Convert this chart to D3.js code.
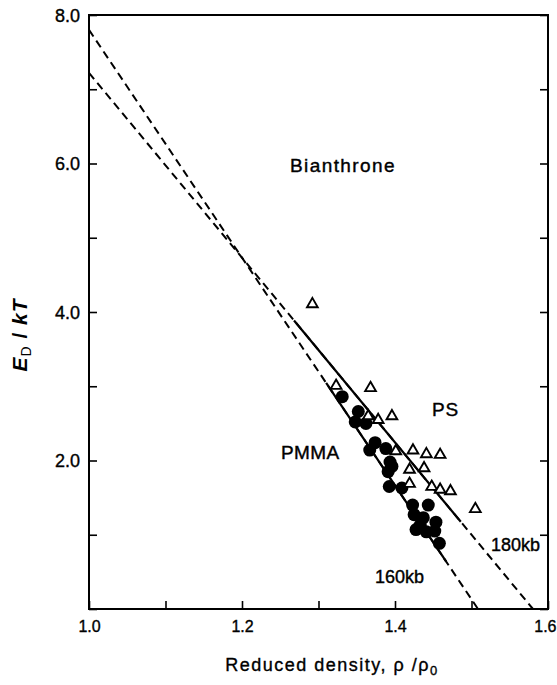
<!DOCTYPE html>
<html><head><meta charset="utf-8">
<script src="https://cdn.jsdelivr.net/npm/d3@7"></script>
<style>
body{margin:0;background:#fff}
text{font-family:"Liberation Sans",Arial,sans-serif;fill:#000}
</style>
</head><body>
<svg id="c" width="557" height="685"></svg>
<script>
// PS (open triangles)
const psRho = [1.292,1.323,1.368,1.365,1.378,1.396,1.401,1.4235,1.441,1.459,1.419,1.438,1.419,1.448,1.459,1.4725,1.505];
const psE   = [4.12,3.02,2.99,2.61,2.56,2.61,2.14,2.15,2.10,2.09,1.89,1.91,1.70,1.66,1.62,1.60,1.36];
// PMMA (filled circles)
const pmmaRho = [1.331,1.352,1.348,1.362,1.374,1.367,1.388,1.3935,1.396,1.391,1.3925,1.409,1.423,1.4435,1.425,1.437,1.4535,1.4275,1.441,1.452,1.458,1.433];
const pmmaE   = [2.86,2.66,2.52,2.50,2.24,2.14,2.16,1.98,1.92,1.85,1.65,1.63,1.40,1.40,1.27,1.23,1.17,1.07,1.04,1.05,0.885,1.13];
// Fitted lines
const lineNames     = ["160kb","180kb"];
const lineIntercept = [7.80, 7.22];   // E at rho = 1.0
const lineRoot      = [1.5085, 1.5804]; // rho where E = 0
const solidFrom     = [1.31, 1.268];
const solidTo       = [1.467, 1.486];
// Ticks
const xTicks = [1.0,1.1,1.2,1.3,1.4,1.5,1.6];
const xTickLabels = ["1.0","","1.2","","1.4","","1.6"];
const yTicks = [0,1,2,3,4,5,6,7,8];
const yTickLabels = ["","","2.0","","4.0","","6.0","","8.0"];

const svg = d3.select("#c");
const x = d3.scaleLinear().domain([1.0,1.6]).range([89,548]);
const y = d3.scaleLinear().domain([0,8]).range([609,15]);

// axes
const gx = svg.append("g").attr("transform","translate(0,609)")
  .call(d3.axisBottom(x).tickValues(xTicks).tickSizeInner(-8).tickSizeOuter(0).tickPadding(12)
    .tickFormat((d,i)=>xTickLabels[i]));
const gy = svg.append("g").attr("transform","translate(89,0)")
  .call(d3.axisLeft(y).tickValues(yTicks).tickSizeInner(-8).tickSizeOuter(0).tickPadding(9)
    .tickFormat((d,i)=>yTickLabels[i]));
const gr = svg.append("g").attr("transform","translate(548,0)")
  .call(d3.axisRight(y).tickValues(yTicks).tickSizeInner(-8).tickSizeOuter(0).tickFormat(""));
[gx,gy,gr].forEach(g=>{
  g.select(".domain").remove();
  g.selectAll(".tick line").attr("stroke","#000").attr("stroke-width",1.6);
  g.selectAll("text").attr("fill","#000").attr("stroke","#000").attr("stroke-width",0.35);
});
gx.selectAll("text").attr("font-size",16).style("font-family","'Liberation Sans',Arial,sans-serif");
gx.selectAll(".tick").filter(d=>d===1.6).select("text").attr("text-anchor","end").attr("dx",8);
gy.selectAll("text").attr("font-size",18).attr("dy","0.36em").style("font-family","'Liberation Sans',Arial,sans-serif");

// frame
svg.append("rect").attr("x",x(1.0)).attr("y",y(8)).attr("width",x(1.6)-x(1.0)).attr("height",y(0)-y(8))
  .attr("fill","none").attr("stroke","#000").attr("stroke-width",2);

// lines
const lineFn = d3.line().x(d=>x(d[0])).y(d=>y(d[1]));
lineNames.forEach((n,i)=>{
  const slope = -lineIntercept[i]/(lineRoot[i]-1);
  const f = r => lineIntercept[i] + slope*(r-1);
  svg.append("path").datum([[1.0,f(1.0)],[lineRoot[i],0]])
    .attr("d",lineFn).attr("fill","none").attr("stroke","#000").attr("stroke-width",2)
    .attr("stroke-dasharray","8,5");
  svg.append("path").datum([[solidFrom[i],f(solidFrom[i])],[solidTo[i],f(solidTo[i])]])
    .attr("d",lineFn).attr("fill","none").attr("stroke","#000").attr("stroke-width",2.2);
});

// PMMA circles
svg.append("g").selectAll("circle").data(pmmaRho).join("circle")
  .attr("cx",(d)=>x(d)).attr("cy",(d,i)=>y(pmmaE[i])).attr("r",6.5).attr("fill","#000");

// PS triangles
const tri = d3.symbol().type(d3.symbolTriangle).size(50);
svg.append("g").selectAll("path").data(psRho).join("path")
  .attr("transform",(d,i)=>`translate(${x(d)},${y(psE[i])+1})`)
  .attr("d",tri).attr("fill","#fff").attr("stroke","#000").attr("stroke-width",1.9);

// labels
const lab = (t,xx,yy,fs,ls)=>svg.append("text").attr("x",xx).attr("y",yy).attr("font-size",fs)
  .attr("letter-spacing",ls||0).attr("stroke","#000").attr("stroke-width",0.4).text(t);
lab("Bianthrone",290,172,19,1.4);
lab("PS",432,416,19,0.8);
lab("PMMA",281,459,19,0.4);
lab("180kb",491,551,18,0);
lab("160kb",375,583,18,0);

// x title
const xt = svg.append("text").attr("x",332).attr("y",671).attr("text-anchor","middle")
  .attr("font-size",18).attr("letter-spacing",1.5).attr("stroke","#000").attr("stroke-width",0.35);
xt.append("tspan").text("Reduced density, ρ /ρ");
xt.append("tspan").attr("font-size",13).attr("dy",4).text("0");

// y title
const yt = svg.append("text").attr("transform","translate(27,335) rotate(-90)").attr("text-anchor","middle")
  .attr("font-size",21).attr("font-weight","bold").attr("letter-spacing",1);
yt.append("tspan").attr("font-style","italic").text("E");
yt.append("tspan").attr("font-size",14).attr("dy",4).attr("font-weight","normal").text("D");
yt.append("tspan").attr("dy",-4).text(" / ");
yt.append("tspan").attr("font-style","italic").text("kT");
</script>
</body></html>
